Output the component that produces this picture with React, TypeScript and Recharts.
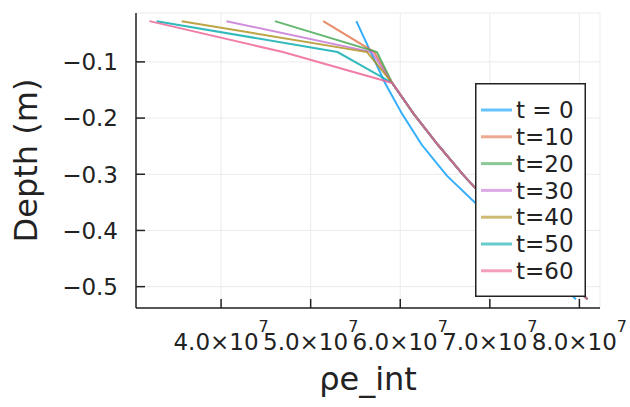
import React from 'react';
import { LineChart, Line, XAxis, YAxis, CartesianGrid, Legend } from 'recharts';

// Depth of each cell centre (m)
const depths = [-0.0275, -0.0825, -0.1375, -0.1925, -0.2475, -0.3025, -0.3575, -0.4125, -0.4675, -0.5225];

// ρe_int values for each time
const rhoT0 = [5.51e7, 5.67e7, 5.83e7, 6.02e7, 6.24e7, 6.52e7, 6.88e7, 7.26e7, 7.62e7, 7.96e7];
const rhoT10 = [5.14e7, 5.71e7, 5.91e7, 6.15e7, 6.42e7, 6.71e7, 7.03e7, 7.37e7, 7.72e7, 8.09e7];
const rhoT20 = [4.6e7, 5.74e7, 5.91e7, 6.15e7, 6.42e7, 6.71e7, 7.03e7, 7.37e7, 7.72e7, 8.09e7];
const rhoT30 = [4.06e7, 5.68e7, 5.91e7, 6.15e7, 6.42e7, 6.71e7, 7.03e7, 7.37e7, 7.72e7, 8.09e7];
const rhoT40 = [3.56e7, 5.63e7, 5.91e7, 6.15e7, 6.42e7, 6.71e7, 7.03e7, 7.37e7, 7.72e7, 8.09e7];
const rhoT50 = [3.28e7, 5.3e7, 5.91e7, 6.15e7, 6.42e7, 6.71e7, 7.03e7, 7.37e7, 7.72e7, 8.09e7];
const rhoT60 = [3.2e7, 4.69e7, 5.91e7, 6.15e7, 6.42e7, 6.71e7, 7.03e7, 7.37e7, 7.72e7, 8.09e7];

const seriesNames = ['t = 0', 't=10', 't=20', 't=30', 't=40', 't=50', 't=60'];
const seriesValues = [rhoT0, rhoT10, rhoT20, rhoT30, rhoT40, rhoT50, rhoT60];
const seriesColors = ['#009AFA', '#E36F47', '#3EA44E', '#C371D2', '#AC8D18', '#00A9AD', '#ED5E93'];

const xTicks = [4e7, 5e7, 6e7, 7e7, 8e7];
const yTicks = [-0.5, -0.4, -0.3, -0.2, -0.1];
const xDomain = [3.05e7, 8.23e7];
const yDomain = [-0.538, -0.013];

const FONT = '"DejaVu Sans", sans-serif';
const INK = '#222';

const seriesData = seriesValues.map((vals) => vals.map((v, i) => ({ rho: v, depth: depths[i] })));

const XTick = (props: any) => {
  const { x, y, payload } = props;
  const mant = (payload.value / 1e7).toFixed(1);
  return (
    <g>
      <line x1={x} y1={y} x2={x} y2={y - 9} stroke={INK} strokeWidth={1.5} />
      <text x={x} y={y + 42} textAnchor="middle" fontFamily={FONT} fontSize={23} fill={INK}>
        <tspan>{mant + '×10'}</tspan>
        <tspan dy={-18} fontSize={16}>7</tspan>
      </text>
    </g>
  );
};

const YTick = (props: any) => {
  const { x, y, payload } = props;
  const label = '\u2212' + Math.abs(payload.value).toFixed(1);
  return (
    <g>
      <line x1={x} y1={y} x2={x + 9} y2={y} stroke={INK} strokeWidth={1.5} />
      <text x={x - 18} y={y} dy="0.36em" textAnchor="end" fontFamily={FONT} fontSize={23} fill={INK}>
        {label}
      </text>
    </g>
  );
};

const renderLegend = (props: any) => {
  const payload = [...(props.payload || [])].sort(
    (a: any, b: any) => seriesNames.indexOf(a.value) - seriesNames.indexOf(b.value)
  );
  return (
    <svg width={111} height={214} style={{ display: 'block' }}>
      <rect x={0.75} y={0.75} width={109.5} height={212.5} fill="#fff" stroke={INK} strokeWidth={1.5} />
      {payload.map((p: any, i: number) => {
        const cy = 27 + i * 26.8;
        return (
          <g key={p.value}>
            <line x1={6} x2={37} y1={cy} y2={cy} stroke={p.color} strokeOpacity={0.6} strokeWidth={3} />
            <text x={41} y={cy} dy="0.36em" fontFamily={FONT} fontSize={23} fill={INK}>
              {p.value}
            </text>
          </g>
        );
      })}
    </svg>
  );
};

export default function App() {
  return (
    <div style={{ position: 'absolute', left: 0, top: 0, width: 630, height: 407, background: '#fff' }}>
      <LineChart width={630} height={407} margin={{ top: 13, right: 30, bottom: 0, left: 0 }}>
        <CartesianGrid stroke="#ebebeb" strokeWidth={1} />
        <XAxis
          type="number"
          dataKey="rho"
          domain={xDomain}
          allowDataOverflow
          ticks={xTicks}
          interval={0}
          height={99}
          tickSize={0}
          tickMargin={0}
          tickLine={false}
          axisLine={{ stroke: INK, strokeWidth: 1.5 }}
          tick={<XTick />}
          label={{ value: 'ρe_int', position: 'insideBottom', offset: 17, fontSize: 32, fill: INK, fontFamily: FONT }}
        />
        <YAxis
          type="number"
          dataKey="depth"
          domain={yDomain}
          allowDataOverflow
          ticks={yTicks}
          interval={0}
          width={136}
          tickSize={0}
          tickMargin={0}
          tickLine={false}
          axisLine={{ stroke: INK, strokeWidth: 1.5 }}
          tick={<YTick />}
          label={{
            value: 'Depth (m)',
            angle: -90,
            position: 'insideLeft',
            offset: 26,
            fontSize: 32,
            fill: INK,
            fontFamily: FONT,
            style: { textAnchor: 'middle' },
          }}
        />
        {seriesData.map((d, i) => (
          <Line
            key={seriesNames[i]}
            data={d}
            dataKey="depth"
            name={seriesNames[i]}
            type="linear"
            stroke={seriesColors[i]}
            strokeOpacity={0.8}
            strokeWidth={2}
            dot={false}
            activeDot={false}
            isAnimationActive={false}
          />
        ))}
        <Legend
          layout="horizontal"
          verticalAlign="middle"
          align="center"
          width={111}
          height={214}
          wrapperStyle={{ left: 475, top: 83, right: 'auto', bottom: 'auto', width: 111, height: 214 }}
          content={renderLegend}
        />
      </LineChart>
    </div>
  );
}
